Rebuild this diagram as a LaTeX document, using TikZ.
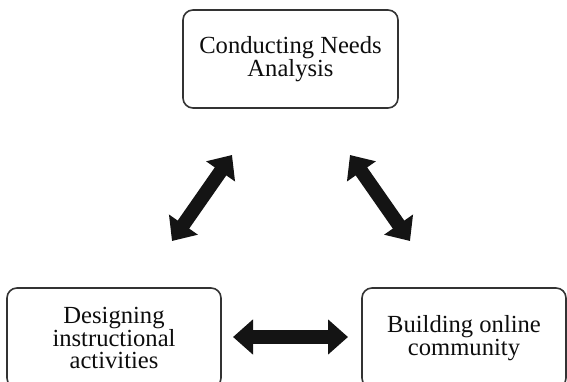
\documentclass[tikz,border=0pt]{standalone}
\usepackage{fontspec}
\setmainfont{Liberation Serif}
\usetikzlibrary{arrows.meta}
\begin{document}
\begin{tikzpicture}[x=1pt,y=-1pt,
  stagebox/.style={draw=black!80,line width=1.6pt,rounded corners=10pt,
    align=center,inner sep=0pt,text=black!95,
    font=\fontsize{24.6}{22.5}\selectfont},
  bigarrow/.style={draw=black!92,line width=14pt,
    {Triangle[width=34pt,length=20pt]}-{Triangle[width=34pt,length=20pt]}}]
  \useasboundingbox (0,0) rectangle (567,382);
  % the three stages
  \node[stagebox,minimum width=215pt,minimum height=98pt] (needs) at (290.5,59)
    {Conducting Needs\\Analysis};
  \node[stagebox,minimum width=214pt,minimum height=100pt] (design) at (114,338)
    {Designing\\instructional\\activities};
  \node[stagebox,minimum width=204pt,minimum height=100pt] (build) at (464,338)
    {Building online\\community};
  % ends of the double arrows between the stages
  \coordinate (nd1) at (232,155);
  \coordinate (nd2) at (172,241);
  \coordinate (nb1) at (350,155);
  \coordinate (nb2) at (410,241);
  \coordinate (db1) at (233,337);
  \coordinate (db2) at (348,337);
  \draw[bigarrow] (nd1) -- (nd2);
  \draw[bigarrow] (nb1) -- (nb2);
  \draw[bigarrow] (db1) -- (db2);
\end{tikzpicture}
\end{document}
